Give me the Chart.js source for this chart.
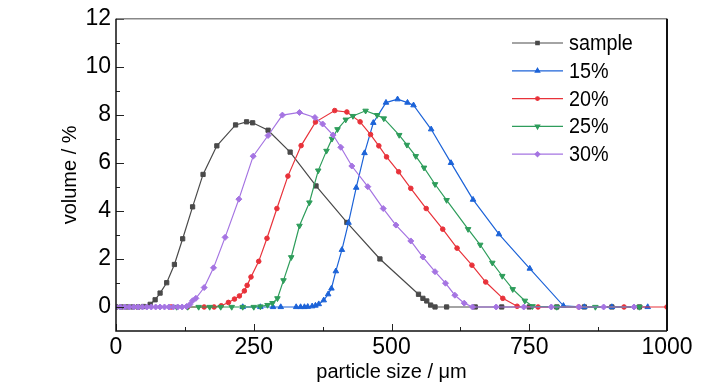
<!DOCTYPE html>
<html lang="en">
<head>
    <meta charset="UTF-8">
    <title>Particle size distribution</title>
    <script src="https://cdn.jsdelivr.net/npm/chart.js@4"></script>
    <style>
        html, body { margin: 0; padding: 0; background: #fff; }
        #grafico-container { width: 728px; height: 390px; }
    </style>
</head>
<body>
    <div id="grafico-container">
        <canvas id="grafico"></canvas>
    </div>

    <script>
        // data (x in µm, y in volume %)
        const seriesNames = ['sample', '15%', '20%', '25%', '30%'];

        const sampleX = [0, 10, 20, 30, 40, 50, 62, 71, 80, 92, 106, 121, 139, 158, 183, 217, 237, 248, 276, 316, 363, 419, 479, 549, 557, 564, 571, 579, 600, 652, 700, 750, 800, 850, 900, 950];
        const sampleY = [0, 0, 0, 0, 0, 0.02, 0.11, 0.30, 0.58, 1.01, 1.77, 2.84, 4.17, 5.52, 6.71, 7.58, 7.71, 7.67, 7.36, 6.45, 5.04, 3.52, 2.00, 0.53, 0.36, 0.25, 0.08, 0, 0, 0, 0, 0, 0, 0, 0, 0];

        const p15X = [230, 262, 285, 299, 327, 335, 342, 348, 356, 362, 368, 377, 385, 391, 399, 410, 422, 436, 451, 467, 490, 511, 529, 540, 572, 608, 648, 695, 751, 812, 850, 900, 965];
        const p15Y = [0, 0, 0, 0, 0, 0, 0, 0.01, 0.03, 0.06, 0.12, 0.28, 0.53, 0.77, 1.49, 2.38, 3.51, 4.97, 6.41, 7.67, 8.51, 8.65, 8.51, 8.40, 7.40, 6.00, 4.47, 3.03, 1.60, 0.05, 0, 0, 0];

        const p20X = [100, 130, 160, 178, 191, 204, 215, 224, 233, 238, 245, 259, 274, 292, 312, 336, 362, 397, 419, 443, 462, 477, 491, 513, 535, 563, 593, 619, 646, 671, 702, 728, 766, 840, 922, 1000];
        const p20Y = [0, 0, 0, 0, 0.05, 0.19, 0.33, 0.46, 0.67, 0.90, 1.25, 1.90, 2.86, 4.10, 5.45, 6.72, 7.70, 8.18, 8.12, 7.71, 7.18, 6.71, 6.25, 5.63, 4.94, 4.10, 3.24, 2.45, 1.74, 1.04, 0.36, 0.03, 0, 0, 0, 0];

        const p25X = [110, 130, 150, 170, 190, 210, 230, 250, 262, 275, 284, 293, 304, 318, 333, 351, 367, 382, 392, 402, 417, 430, 453, 474, 486, 514, 528, 544, 559, 579, 600, 639, 661, 683, 701, 720, 742, 756, 800, 870, 950];
        const p25Y = [0, 0, 0, 0, 0, 0, 0, 0, 0.02, 0.08, 0.16, 0.36, 1.11, 2.07, 3.38, 4.35, 5.68, 6.50, 7.00, 7.40, 7.80, 7.95, 8.17, 7.99, 7.85, 7.16, 6.75, 6.28, 5.80, 5.11, 4.45, 3.24, 2.59, 1.84, 1.29, 0.74, 0.26, 0.03, 0, 0, 0];

        const p30X = [0, 8, 16, 24, 32, 40, 48, 56, 64, 72, 80, 88, 96, 104, 112, 120, 128, 134, 139, 145, 160, 177, 198, 223, 249, 276, 302, 333, 361, 375, 394, 408, 428, 457, 485, 508, 535, 557, 579, 598, 615, 632, 647, 690, 740, 790, 840, 885, 940];
        const p30Y = [0, 0, 0, 0, 0, 0, 0, 0, 0, 0, 0, 0, 0, 0, 0, 0, 0.02, 0.10, 0.26, 0.36, 0.81, 1.63, 2.90, 4.49, 6.28, 7.14, 7.99, 8.10, 7.89, 7.62, 7.16, 6.65, 5.87, 5.01, 4.10, 3.41, 2.75, 2.08, 1.47, 0.99, 0.49, 0.16, 0, 0, 0, 0, 0, 0, 0];

        const xTicks = [0, 250, 500, 750, 1000];
        const yTicks = [0, 2, 4, 6, 8, 10, 12];

        const cores = ['#4a4a4a', '#1c63d8', '#e8323a', '#2e9d5b', '#a574e2'];
        const estilos = ['rect', 'triangle', 'circle', 'triangle', 'rectRot'];
        const rotacoes = [0, 0, 0, 180, 0];
        const raios = [3, 3.2, 2.3, 3.2, 3];

        const fonte = "'Liberation Sans', Arial, sans-serif";

        function pontos(xs, ys) {
            return xs.map((x, i) => ({ x: x, y: ys[i] }));
        }

        const listaX = [sampleX, p15X, p20X, p25X, p30X];
        const listaY = [sampleY, p15Y, p20Y, p25Y, p30Y];

        // inside ticks, frame and the legend drawn on top
        const molduraPlugin = {
            id: 'moldura',
            afterDraw(chart) {
                const ctx = chart.ctx;
                const area = chart.chartArea;
                const xs = chart.scales.x;
                const ys = chart.scales.y;
                ctx.save();

                ctx.strokeStyle = '#222';
                ctx.lineWidth = 1;
                xs.ticks.forEach(t => {
                    const px = Math.round(xs.getPixelForValue(t.value)) + 0.5;
                    const len = xTicks.includes(t.value) ? 7 : 4;
                    ctx.beginPath();
                    ctx.moveTo(px, area.bottom);
                    ctx.lineTo(px, area.bottom - len);
                    ctx.stroke();
                });
                ys.ticks.forEach(t => {
                    if (t.value <= ys.min) return;
                    const py = Math.round(ys.getPixelForValue(t.value)) + 0.5;
                    const len = yTicks.includes(t.value) ? 8 : 4;
                    ctx.beginPath();
                    ctx.moveTo(area.left, py);
                    ctx.lineTo(area.left + len, py);
                    ctx.stroke();
                });

                ctx.lineWidth = 1.5;
                ctx.strokeStyle = '#888';
                ctx.beginPath();
                ctx.moveTo(area.left, area.top);
                ctx.lineTo(area.right, area.top);
                ctx.stroke();
                ctx.strokeStyle = '#111';
                ctx.beginPath();
                ctx.moveTo(area.left, area.top);
                ctx.lineTo(area.left, area.bottom);
                ctx.lineTo(area.right, area.bottom);
                ctx.stroke();
                ctx.lineWidth = 2;
                ctx.beginPath();
                ctx.moveTo(area.right, area.top);
                ctx.lineTo(area.right, area.bottom);
                ctx.stroke();

                // legend
                const x0 = 512, x1 = 563, y0 = 43, passo = 27.8;
                ctx.font = '22px ' + fonte;
                ctx.textBaseline = 'middle';
                ctx.textAlign = 'left';
                seriesNames.forEach((nome, i) => {
                    const y = y0 + i * passo;
                    ctx.strokeStyle = cores[i];
                    ctx.lineWidth = 1.2;
                    ctx.beginPath();
                    ctx.moveTo(x0, y);
                    ctx.lineTo(x1, y);
                    ctx.stroke();
                    ctx.fillStyle = cores[i];
                    Chart.helpers.drawPoint(ctx, {
                        pointStyle: estilos[i],
                        radius: raios[i] * 0.8,
                        rotation: rotacoes[i],
                        borderWidth: 1
                    }, (x0 + x1) / 2, y);
                    // text a bit condensed, like the original
                    ctx.save();
                    ctx.translate(569, y + 1);
                    ctx.scale(0.9, 1);
                    ctx.fillStyle = '#000';
                    ctx.fillText(nome, 0, 0);
                    ctx.restore();
                });
                ctx.restore();
            }
        };

        document.addEventListener('DOMContentLoaded', function () {
            const ctx = document.getElementById('grafico').getContext('2d');

            new Chart(ctx, {
                type: 'line',
                data: {
                    datasets: seriesNames.map((nome, i) => ({
                        label: nome,
                        data: pontos(listaX[i], listaY[i]),
                        borderColor: cores[i],
                        backgroundColor: cores[i],
                        borderWidth: 1.2,
                        pointStyle: estilos[i],
                        pointRotation: rotacoes[i],
                        pointRadius: raios[i],
                        pointBorderWidth: 1,
                        tension: 0,
                        order: seriesNames.length - i
                    }))
                },
                options: {
                    responsive: true,
                    maintainAspectRatio: false,
                    animation: false,
                    layout: { padding: { top: 14, right: 61, left: 0, bottom: 0 } },
                    plugins: {
                        legend: { display: false },
                        tooltip: { enabled: false }
                    },
                    scales: {
                        x: {
                            type: 'linear',
                            min: 0,
                            max: 1000,
                            grid: { display: false, drawTicks: false },
                            border: { display: false },
                            ticks: {
                                stepSize: 125,
                                autoSkip: false,
                                maxRotation: 0,
                                padding: 3,
                                color: '#000',
                                font: { family: fonte, size: 23 },
                                callback: v => xTicks.includes(v) ? String(v) : ''
                            },
                            title: {
                                display: true,
                                text: 'particle size / μm',
                                color: '#000',
                                font: { family: fonte, size: 20 },
                                padding: { top: 0, bottom: 6 }
                            },
                            afterFit: s => { s.height = 59; }
                        },
                        y: {
                            min: -1,
                            max: 12,
                            grid: { display: false, drawTicks: false },
                            border: { display: false },
                            ticks: {
                                stepSize: 1,
                                autoSkip: false,
                                padding: 5,
                                color: '#000',
                                font: { family: fonte, size: 23 },
                                callback: v => yTicks.includes(v) ? String(v) : ''
                            },
                            title: {
                                display: true,
                                text: 'volume / %',
                                color: '#000',
                                font: { family: fonte, size: 20 },
                                padding: { top: 58, bottom: 0 }
                            },
                            afterFit: s => { s.width = 116; }
                        }
                    }
                },
                plugins: [molduraPlugin]
            });
        });
    </script>
</body>
</html>
